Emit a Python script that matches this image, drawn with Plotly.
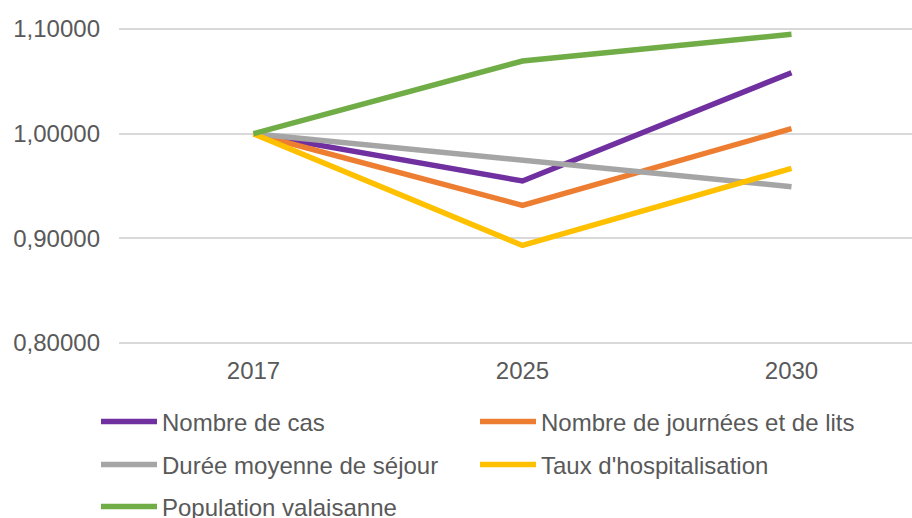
import plotly.graph_objects as go

years = ["2017", "2025", "2030"]
series_names = [
    "Nombre de cas",
    "Nombre de journées et de lits",
    "Durée moyenne de séjour",
    "Taux d'hospitalisation",
    "Population valaisanne",
]
nombre_cas = [1.0, 0.9548, 1.0583]
nombre_journees = [1.0, 0.9315, 1.0048]
duree_sejour = [1.0, 0.9740, 0.9493]
taux_hosp = [1.0, 0.8932, 0.9669]
population = [1.0, 1.0695, 1.0950]
y_ticks = [0.8, 0.9, 1.0, 1.1]

colors = ["#7030A0", "#ED7D31", "#A5A5A5", "#FFC000", "#70AD47"]
values = [nombre_cas, nombre_journees, duree_sejour, taux_hosp, population]
legend_ids = ["legend", "legend", "legend2", "legend2", "legend3"]

W, H = 912, 518
fig = go.Figure()
for i in range(len(series_names)):
    fig.add_trace(go.Scatter(
        x=years, y=values[i], name=series_names[i], mode="lines",
        line=dict(color=colors[i], width=5.5), legend=legend_ids[i],
        legendrank=i, cliponaxis=False,
    ))

font_family = "Liberation Sans, Arial, sans-serif"
text_color = "#595959"

def leg(ypix):
    return dict(
        orientation="h", xref="container", yref="container",
        x=96 / W, y=1 - ypix / H, xanchor="left", yanchor="middle",
        entrywidth=308, entrywidthmode="pixels", itemwidth=56,
        font=dict(family=font_family, size=24, color=text_color),
        bgcolor="rgba(0,0,0,0)", traceorder="normal",
    )

fig.update_layout(
    width=W, height=H,
    margin=dict(l=119, r=0, t=27, b=173, autoexpand=False),
    paper_bgcolor="white", plot_bgcolor="white",
    separators=", ",
    showlegend=True,
    legend=leg(422), legend2=leg(465), legend3=leg(507),
    font=dict(family=font_family, size=24, color=text_color),
    xaxis=dict(
        type="category", range=[-0.5, 2.448], showgrid=False, showline=False,
        zeroline=False, ticks="", ticklabelstandoff=9,
        tickfont=dict(family=font_family, size=24, color=text_color),
    ),
    yaxis=dict(
        range=[0.798, 1.102], tickvals=y_ticks, tickformat=".5f",
        showgrid=True, gridcolor="#D9D9D9", gridwidth=1.5,
        zeroline=False, showline=False, ticks="", ticklabelstandoff=18,
        tickfont=dict(family=font_family, size=24, color=text_color),
    ),
)

fig.write_html(
    "out.html",
    config={"displayModeBar": False},
    post_script="document.body.style.margin='0';document.body.style.padding='0';",
)
